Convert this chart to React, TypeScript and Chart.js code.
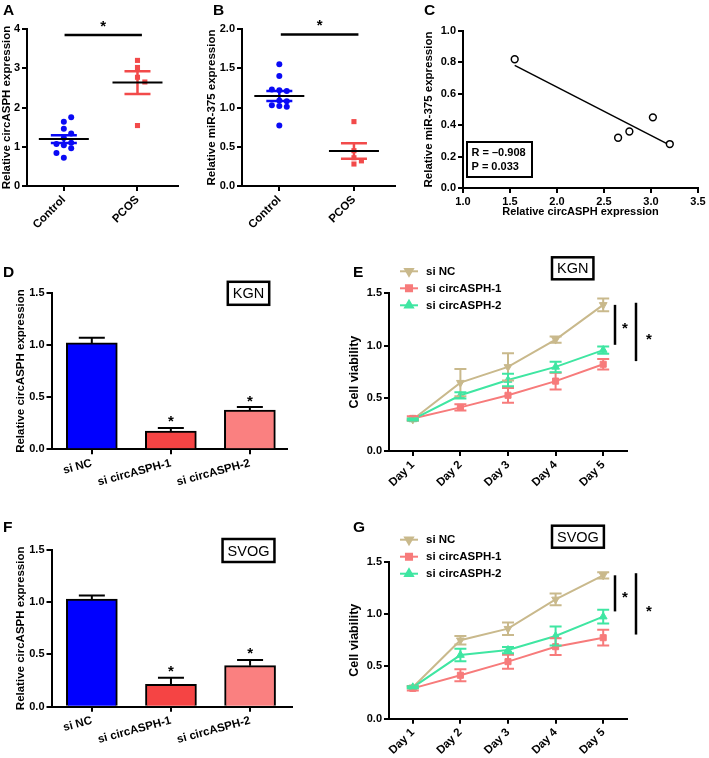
import React, { useEffect, useRef } from "react";
import { Chart, registerables } from "chart.js";
import { drawPoint } from "chart.js/helpers";

Chart.register(...registerables);

const PAGE_W = 709;
const PAGE_H = 758;
const FONT = "'Liberation Sans', Arial, Helvetica, sans-serif";
Chart.defaults.font.family = FONT;

// ---------------- data ----------------
const dotGroups = ["Control", "PCOS"];
const circControl = [1.64, 1.75, 1.46, 1.22, 1.34, 1.1, 1.04, 1.07, 0.96, 0.72, 0.84];
const circPCOS = [3.2, 3.02, 2.77, 2.65, 1.54];
const mirControl = [1.55, 1.4, 1.22, 1.21, 1.23, 1.09, 1.08, 1.02, 1.01, 1.03, 0.77];
const mirPCOS = [0.82, 0.45, 0.36, 0.32, 0.28];

const corrCirc = [1.55, 2.65, 2.77, 3.02, 3.2];
const corrMir = [0.82, 0.32, 0.36, 0.45, 0.28];
const corrStats = ["R = \u20130.908", "P = 0.033"];

const knockGroups = ["si NC", "si circASPH-1", "si circASPH-2"];
const kgnExpr = [1.02, 0.175, 0.375];
const kgnExprErr = [0.05, 0.03, 0.03];
const svogExpr = [1.03, 0.215, 0.393];
const svogExprErr = [0.035, 0.063, 0.055];
const exprStars = [false, true, true];

const days = ["Day 1", "Day 2", "Day 3", "Day 4", "Day 5"];
const seriesNames = ["si NC", "si circASPH-1", "si circASPH-2"];
const kgnNC = [0.3, 0.65, 0.8, 1.06, 1.39];
const kgnNCErr = [0.01, 0.13, 0.13, 0.03, 0.06];
const kgnC1 = [0.31, 0.415, 0.53, 0.665, 0.825];
const kgnC1Err = [0.02, 0.03, 0.07, 0.08, 0.05];
const kgnC2 = [0.3, 0.53, 0.675, 0.8, 0.96];
const kgnC2Err = [0.01, 0.03, 0.06, 0.05, 0.035];
const svogNC = [0.3, 0.75, 0.86, 1.14, 1.37];
const svogNCErr = [0.01, 0.04, 0.06, 0.055, 0.03];
const svogC1 = [0.29, 0.415, 0.545, 0.688, 0.774];
const svogC1Err = [0.02, 0.057, 0.067, 0.08, 0.075];
const svogC2 = [0.3, 0.608, 0.656, 0.79, 0.975];
const svogC2Err = [0.01, 0.06, 0.03, 0.09, 0.065];

// ---------------- styles ----------------
const BLUE = "#0a0af5";
const RED = "#f24a4a";
const BAR_COLORS = ["#0000ff", "#f54444", "#fa8080"];
const TAN = "#c9b98c";
const SALMON = "#f77b7b";
const MINT = "#3fe6a2";

// ---------------- helpers ----------------
function mean(a: number[]) {
  return a.reduce((s, v) => s + v, 0) / a.length;
}
function sem(a: number[]) {
  const m = mean(a);
  const v = a.reduce((s, x) => s + (x - m) ** 2, 0) / (a.length - 1);
  return Math.sqrt(v / a.length);
}
function linreg(xs: number[], ys: number[]) {
  const mx = mean(xs), my = mean(ys);
  let sxy = 0, sxx = 0;
  xs.forEach((x, i) => {
    sxy += (x - mx) * (ys[i] - my);
    sxx += (x - mx) ** 2;
  });
  const b = sxy / sxx;
  return { a: my - b * mx, b };
}
// bee-swarm horizontal spread for dot plots
function swarm(vals: number[], thr: number, step: number) {
  const placed: { v: number; o: number }[] = [];
  return vals.map((v) => {
    for (let k = 0; k < 20; k++) {
      const cands = k === 0 ? [0] : [k * step, -k * step];
      for (const o of cands) {
        if (!placed.some((p) => Math.abs(p.v - v) < thr && Math.abs(p.o - o) < step * 0.9)) {
          placed.push({ v, o });
          return o;
        }
      }
    }
    return 0;
  });
}

type Area = { l: number; t: number; r: number; b: number };

function base(area: Area, yW: number, xH: number) {
  return {
    responsive: false,
    animation: false,
    devicePixelRatio: 1,
    events: [],
    layout: {
      padding: { left: area.l - yW, top: area.t, right: PAGE_W - area.r, bottom: PAGE_H - area.b - xH },
    },
    plugins: { legend: { display: false }, tooltip: { enabled: false } },
  };
}

function axis(o: any) {
  const sc: any = {
    type: o.type ?? "linear",
    offset: o.offset ?? false,
    border: { display: true, color: "#000", width: 2 },
    grid: { drawOnChartArea: false, drawTicks: true, tickLength: 5, color: "#000", lineWidth: 2, offset: false },
    ticks: {
      color: "#000",
      font: { family: FONT, size: o.tickSize ?? 11, weight: "bold" },
      padding: 2,
      autoSkip: false,
      minRotation: o.rotation ?? 0,
      maxRotation: o.rotation ?? 0,
    },
    title: o.title
      ? { display: true, text: o.title, color: "#000", font: { family: FONT, size: o.titleSize ?? 11.5, weight: "bold" }, padding: 0 }
      : { display: false },
    afterFit: (s: any) => {
      if (o.w !== undefined) s.width = o.w;
      if (o.h !== undefined) s.height = o.h;
    },
  };
  if (o.min !== undefined) sc.min = o.min;
  if (o.max !== undefined) sc.max = o.max;
  if (o.step !== undefined) sc.ticks.stepSize = o.step;
  if (o.fmt) sc.ticks.callback = o.fmt;
  if (o.ticksAt) sc.afterBuildTicks = (s: any) => {
    s.ticks = o.ticksAt.map((v: number) => ({ value: v }));
  };
  return sc;
}

function txt(ctx: CanvasRenderingContext2D, s: string, x: number, y: number, size: number, weight = "bold", align: CanvasTextAlign = "left", baseline: CanvasTextBaseline = "alphabetic") {
  ctx.save();
  ctx.fillStyle = "#000";
  ctx.font = `${weight} ${size}px ${FONT}`;
  ctx.textAlign = align;
  ctx.textBaseline = baseline;
  ctx.fillText(s, x, y);
  ctx.restore();
}

function seg(ctx: CanvasRenderingContext2D, x0: number, y0: number, x1: number, y1: number) {
  ctx.moveTo(x0, y0);
  ctx.lineTo(x1, y1);
}

function letterPlugin(letter: string, x: number, y: number) {
  return {
    id: "letter" + letter,
    afterDraw(chart: any) {
      txt(chart.ctx, letter, x, y, 15.5, "bold");
    },
  };
}

function boxText(ctx: CanvasRenderingContext2D, s: string, left: number | null, cx: number | null, top: number, h: number) {
  ctx.save();
  ctx.font = `normal 14.5px ${FONT}`;
  const w = ctx.measureText(s).width + 10;
  const l = left !== null ? left : (cx as number) - w / 2;
  ctx.fillStyle = "#fff";
  ctx.fillRect(l, top, w, h);
  ctx.strokeStyle = "#000";
  ctx.lineWidth = 2.5;
  ctx.strokeRect(l, top, w, h);
  ctx.restore();
  txt(ctx, s, l + w / 2, top + h / 2 + 1, 14.5, "normal", "center", "middle");
}

// ---------------- panel makers ----------------
function makeDot(ctrl: number[], pcos: number[], yMax: number, yStep: number, yFmt: (v: any) => string, area: Area, yW: number, title: string, sig: { y: number; x0: number; x1: number }, letter: [string, number, number]) {
  const thr = yMax * 0.033;
  const offC = swarm(ctrl, thr, 0.1);
  const offP = swarm(pcos, thr, 0.1);
  const groupsVals = [ctrl, pcos];
  const colors = [BLUE, RED];
  return {
    type: "scatter",
    data: {
      datasets: [
        { data: ctrl.map((v, i) => ({ x: offC[i], y: v })), pointStyle: "circle", pointRadius: 3, backgroundColor: BLUE, borderColor: BLUE, borderWidth: 0 },
        { data: pcos.map((v, i) => ({ x: 1 + offP[i], y: v })), pointStyle: "rect", pointRadius: 3.6, backgroundColor: RED, borderColor: RED, borderWidth: 0 },
      ],
    },
    options: {
      ...base(area, yW, 45),
      scales: {
        x: axis({ min: -0.5, max: 1.55, ticksAt: [0, 1], fmt: (v: any) => dotGroups[v] ?? "", rotation: 45, h: 45, tickSize: 11.5 }),
        y: axis({ min: 0, max: yMax, step: yStep, fmt: yFmt, w: yW, title }),
      },
    },
    plugins: [
      {
        id: "dotplot",
        afterDatasetsDraw(chart: any) {
          const { ctx } = chart;
          const x = chart.scales.x, y = chart.scales.y;
          ctx.save();
          groupsVals.forEach((vals, gi) => {
            const m = mean(vals), e = sem(vals);
            const cx = x.getPixelForValue(gi);
            const ym = y.getPixelForValue(m), yt = y.getPixelForValue(m + e), yb = y.getPixelForValue(m - e);
            ctx.strokeStyle = colors[gi];
            ctx.lineWidth = 2.5;
            ctx.beginPath();
            seg(ctx, cx, yt, cx, yb);
            seg(ctx, cx - 13, yt, cx + 13, yt);
            seg(ctx, cx - 13, yb, cx + 13, yb);
            ctx.stroke();
            ctx.strokeStyle = "#000";
            ctx.lineWidth = 2;
            ctx.beginPath();
            seg(ctx, cx - 25, ym, cx + 25, ym);
            ctx.stroke();
          });
          const sy = y.getPixelForValue(sig.y);
          const sx0 = x.getPixelForValue(sig.x0), sx1 = x.getPixelForValue(sig.x1);
          ctx.strokeStyle = "#000";
          ctx.lineWidth = 2.5;
          ctx.beginPath();
          seg(ctx, sx0, sy, sx1, sy);
          ctx.stroke();
          ctx.restore();
          txt(ctx, "*", (sx0 + sx1) / 2, sy - 4, 15, "bold", "center");
        },
      },
      letterPlugin(letter[0], letter[1], letter[2]),
    ],
  };
}

function makeCorr() {
  const area: Area = { l: 463, t: 31, r: 698, b: 188 };
  const { a, b } = linreg(corrCirc, corrMir);
  const xMin = Math.min(...corrCirc), xMax = Math.max(...corrCirc);
  return {
    type: "scatter",
    data: {
      datasets: [
        { data: corrCirc.map((x, i) => ({ x, y: corrMir[i] })), pointStyle: "circle", pointRadius: 3.4, backgroundColor: "#fff", borderColor: "#000", borderWidth: 1.5 },
        { type: "line", data: [xMin, xMax].map((x) => ({ x, y: a + b * x })), borderColor: "#000", borderWidth: 1.5, pointRadius: 0, showLine: true, fill: false },
      ],
    },
    options: {
      ...base(area, 41, 31),
      scales: {
        x: axis({ min: 1, max: 3.5, step: 0.5, fmt: (v: any) => Number(v).toFixed(1), h: 31, title: "Relative circASPH expression", titleSize: 11 }),
        y: axis({ min: 0, max: 1, step: 0.2, fmt: (v: any) => Number(v).toFixed(1), w: 41, title: "Relative miR-375 expression" }),
      },
    },
    plugins: [
      {
        id: "corrbox",
        afterDraw(chart: any) {
          const { ctx, chartArea: ca } = chart;
          ctx.save();
          ctx.strokeStyle = "#000";
          ctx.lineWidth = 2;
          ctx.strokeRect(ca.left + 4, ca.bottom - 46, 65, 35);
          ctx.restore();
          txt(ctx, corrStats[0], ca.left + 8.5, ca.bottom - 35, 11, "bold", "left", "middle");
          txt(ctx, corrStats[1], ca.left + 8.5, ca.bottom - 21, 11, "bold", "left", "middle");
        },
      },
      letterPlugin("C", 424, 15),
    ],
  };
}

function makeBars(vals: number[], errs: number[], area: Area, xMax: number, cell: string, letter: [string, number, number]) {
  const yW = 37.5;
  return {
    type: "bar",
    data: {
      datasets: [
        {
          data: vals.map((v, i) => ({ x: i, y: v })),
          backgroundColor: BAR_COLORS,
          borderColor: "#000",
          borderWidth: 2,
          barThickness: 51,
        },
      ],
    },
    options: {
      ...base(area, yW, 40),
      scales: {
        x: axis({ min: -0.51, max: xMax, ticksAt: [0, 1, 2], fmt: (v: any) => knockGroups[v] ?? "", rotation: 15, h: 40, tickSize: 11.5 }),
        y: axis({ min: 0, max: 1.5, step: 0.5, fmt: (v: any) => Number(v).toFixed(1), w: yW, title: "Relative circASPH expression" }),
      },
    },
    plugins: [
      {
        id: "barerr",
        afterDatasetsDraw(chart: any) {
          const { ctx, chartArea: ca } = chart;
          const x = chart.scales.x, y = chart.scales.y;
          vals.forEach((m, i) => {
            const cx = x.getPixelForValue(i);
            const ym = y.getPixelForValue(m), yt = y.getPixelForValue(m + errs[i]);
            ctx.save();
            ctx.strokeStyle = "#000";
            ctx.lineWidth = 2;
            ctx.beginPath();
            seg(ctx, cx, ym, cx, yt);
            seg(ctx, cx - 13, yt, cx + 13, yt);
            ctx.stroke();
            ctx.restore();
            if (exprStars[i]) txt(ctx, "*", cx, yt - 1.5, 15, "bold", "center");
          });
          boxText(ctx, cell, null, ca.left + 197, ca.top - 11, 23);
        },
      },
      letterPlugin(letter[0], letter[1], letter[2]),
    ],
  };
}

function makeLines(series: { vals: number[]; errs: number[] }[], area: Area, xH: number, cell: string, letter: [string, number, number]) {
  const colors = [TAN, SALMON, MINT];
  const styles = ["triangle", "rect", "triangle"];
  const rots = [180, 0, 0];
  const radii = [4.5, 4.3, 4.5];
  return {
    type: "line",
    data: {
      labels: days,
      datasets: series.map((s, i) => ({
        label: seriesNames[i],
        data: s.vals,
        borderColor: colors[i],
        backgroundColor: colors[i],
        pointStyle: styles[i],
        pointRotation: rots[i],
        pointRadius: radii[i],
        pointBorderWidth: 1,
        borderWidth: 2,
        order: 2 - i,
        fill: false,
      })),
    },
    options: {
      ...base(area, 41.5, xH),
      scales: {
        x: axis({ type: "category", offset: true, rotation: 45, h: xH, tickSize: 11.5 }),
        y: axis({ min: 0, max: 1.5, step: 0.5, fmt: (v: any) => Number(v).toFixed(1), w: 41.5, title: "Cell viability", titleSize: 12.5 }),
      },
    },
    plugins: [
      {
        id: "lineerr",
        afterDatasetsDraw(chart: any) {
          const { ctx } = chart;
          const x = chart.scales.x, y = chart.scales.y;
          [0, 1, 2].forEach((si) => {
            const s = series[si];
            ctx.save();
            ctx.strokeStyle = colors[si];
            ctx.lineWidth = 2;
            ctx.beginPath();
            s.vals.forEach((v, i) => {
              const cx = x.getPixelForValue(i);
              const yt = y.getPixelForValue(v + s.errs[i]), yb = y.getPixelForValue(v - s.errs[i]);
              seg(ctx, cx, yt, cx, yb);
              seg(ctx, cx - 6, yt, cx + 6, yt);
              seg(ctx, cx - 6, yb, cx + 6, yb);
            });
            ctx.stroke();
            ctx.restore();
          });
        },
        afterDraw(chart: any) {
          const { ctx, chartArea: ca } = chart;
          const y = chart.scales.y;
          // legend
          chart.data.datasets.forEach((ds: any, i: number) => {
            const ly = ca.top - 22 + i * 17;
            ctx.save();
            ctx.strokeStyle = ds.borderColor;
            ctx.lineWidth = 2;
            ctx.beginPath();
            seg(ctx, ca.left + 11, ly, ca.left + 29, ly);
            ctx.stroke();
            ctx.fillStyle = ds.backgroundColor;
            ctx.strokeStyle = ds.borderColor;
            drawPoint(ctx, { pointStyle: ds.pointStyle, rotation: ds.pointRotation, radius: ds.pointRadius, borderWidth: 1 } as any, ca.left + 20, ly);
            ctx.restore();
            txt(ctx, ds.label, ca.left + 37, ly + 0.5, 11.5, "bold", "left", "middle");
          });
          // significance bars
          const last = days.length - 1;
          const nc5 = series[0].vals[last];
          const pairs = [
            { x: ca.right - 12, top: nc5, bot: series[2].vals[last] + 0.05, sx: 10, sd: 0 },
            { x: ca.right + 9, top: nc5 + 0.02, bot: series[1].vals[last] + 0.03, sx: 13, sd: 4 },
          ];
          pairs.forEach((p) => {
            const yt = y.getPixelForValue(p.top), yb = y.getPixelForValue(p.bot);
            ctx.save();
            ctx.strokeStyle = "#000";
            ctx.lineWidth = 2.5;
            ctx.beginPath();
            seg(ctx, p.x, yt, p.x, yb);
            ctx.stroke();
            ctx.restore();
            txt(ctx, "*", p.x + p.sx, (yt + yb) / 2 + p.sd + 8.5, 15, "bold", "center");
          });
          boxText(ctx, cell, ca.left + 163, null, ca.top - 36, 22);
        },
      },
      letterPlugin(letter[0], letter[1], letter[2]),
    ],
  };
}

const makers: (() => any)[] = [
  () =>
    makeDot(circControl, circPCOS, 4, 1, (v: any) => String(v), { l: 27, t: 29, r: 178, b: 186 }, 27, "Relative circASPH expression", { y: 3.85, x0: 0.01, x1: 1.06 }, ["A", 3, 15]),
  () =>
    makeDot(mirControl, mirPCOS, 2, 0.5, (v: any) => Number(v).toFixed(1), { l: 242, t: 29, r: 395, b: 186 }, 37, "Relative miR-375 expression", { y: 1.93, x0: 0.02, x1: 1.06 }, ["B", 213, 15]),
  () => makeCorr(),
  () => makeBars(kgnExpr, kgnExprErr, { l: 51.5, t: 292.8, r: 287, b: 449.3 }, 2.47, "KGN", ["D", 3, 277]),
  () =>
    makeLines(
      [
        { vals: kgnNC, errs: kgnNCErr },
        { vals: kgnC1, errs: kgnC1Err },
        { vals: kgnC2, errs: kgnC2Err },
      ],
      { l: 389, t: 293.3, r: 627, b: 451 },
      40,
      "KGN",
      ["E", 353, 277]
    ),
  () => makeBars(svogExpr, svogExprErr, { l: 51.5, t: 550, r: 292, b: 706.7 }, 2.53, "SVOG", ["F", 3, 532]),
  () =>
    makeLines(
      [
        { vals: svogNC, errs: svogNCErr },
        { vals: svogC1, errs: svogC1Err },
        { vals: svogC2, errs: svogC2Err },
      ],
      { l: 389, t: 561.7, r: 627, b: 718.7 },
      35,
      "SVOG",
      ["G", 353, 532]
    ),
];

function ChartCanvas({ make }: { make: () => any }) {
  const ref = useRef<HTMLCanvasElement>(null);
  useEffect(() => {
    const chart = new Chart(ref.current as HTMLCanvasElement, make());
    return () => chart.destroy();
  }, []);
  return (
    <canvas
      ref={ref}
      width={PAGE_W}
      height={PAGE_H}
      style={{ position: "absolute", left: 0, top: 0, width: PAGE_W, height: PAGE_H, pointerEvents: "none" }}
    />
  );
}

export default function App() {
  return (
    <div style={{ position: "absolute", left: 0, top: 0, width: PAGE_W, height: PAGE_H, background: "#fff", overflow: "hidden" }}>
      {makers.map((m, i) => (
        <ChartCanvas key={i} make={m} />
      ))}
    </div>
  );
}
